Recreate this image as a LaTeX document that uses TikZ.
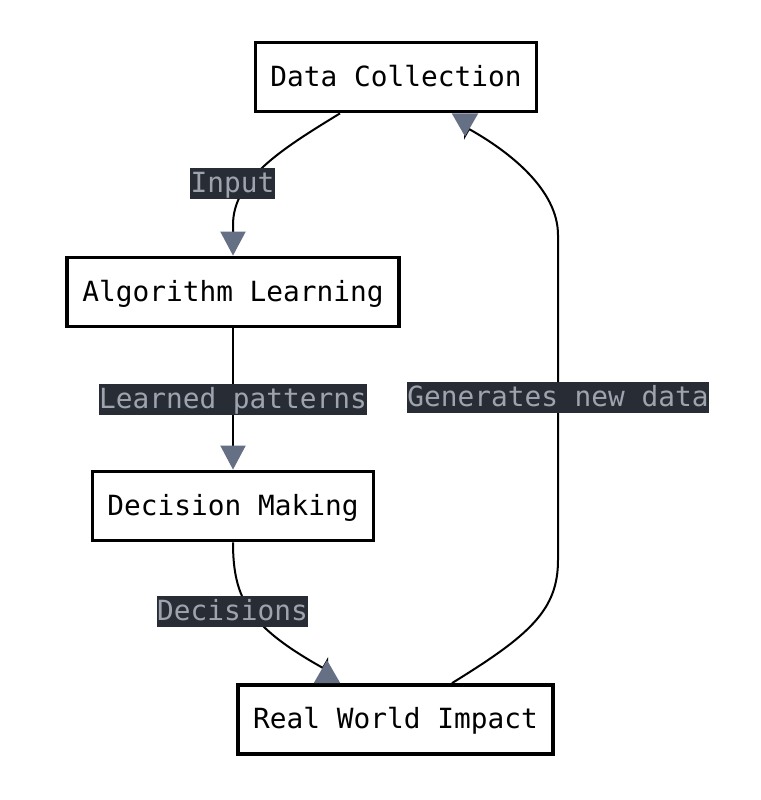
\documentclass[tikz,border=0pt]{standalone}
\usepackage{fontspec}
\newfontfamily\flowfont{DejaVu Sans Mono}
\usepackage{xcolor}
\usepackage{tikz}
\usetikzlibrary{arrows.meta}
\definecolor{tipfill}{HTML}{667085}
\definecolor{labelbg}{HTML}{282C34}
\definecolor{labeltext}{HTML}{9EA3AE}
\tikzset{
  stage/.style={draw=black, line width=3.8pt, fill=white, inner xsep=15pt, minimum height=69pt,
    text height=21pt, text depth=2.5pt, font=\flowfont\fontsize{27.8pt}{33pt}\selectfont},
  flow/.style={line width=2pt, draw=black},
  tipin/.style={-{Triangle[length=24pt,width=25pt,color=tipfill]}},
  tipback/.style={-{Triangle[reversed,length=23pt,width=26pt,color=tipfill]}},
  lbl/.style={fill=labelbg, text=labeltext, inner xsep=0.5pt, inner ysep=0pt,
    text height=24.5pt, text depth=6.5pt, font=\flowfont\fontsize{27.8pt}{33pt}\selectfont}
}
\begin{document}
\begin{tikzpicture}[x=1pt, y=-1pt]
  \fill[white] (0,0) rectangle (760,800);
  \useasboundingbox (0,0) rectangle (760,800);

  \node[stage] (dc) at (396,77) {Data Collection};
  \node[stage] (al) at (233,292) {Algorithm Learning};
  \node[stage] (dm) at (233,506) {Decision Making};
  \node[stage] (rwi) at (395.5,719.5) {Real World Impact};

  \draw[flow, tipin] ([xshift=-56pt]dc.south) .. controls (280,150) and (233,180) .. (233,225)
    node[lbl] at (232.5,183.5) {Input} -- (al.north);
  \draw[flow, tipin] (al.south) -- node[lbl] {Learned patterns} (dm.north);
  \draw[flow, tipback] (dm.south) .. controls (233,600) and (250,627) .. (323,668)
    node[lbl] at (232.5,611.5) {Decisions} -- (327,661) -- ([xshift=-68.5pt]rwi.north);

  % loop back up the right side
  \draw[flow, tipback] ([xshift=56.5pt]rwi.north) .. controls (530,635) and (558,610) .. (558,560)
    -- node[lbl] {Generates new data} (558,235)
    .. controls (558,190) and (510,152) .. (469,129) -- (465,136) -- ([xshift=69pt]dc.south);
\end{tikzpicture}
\end{document}
